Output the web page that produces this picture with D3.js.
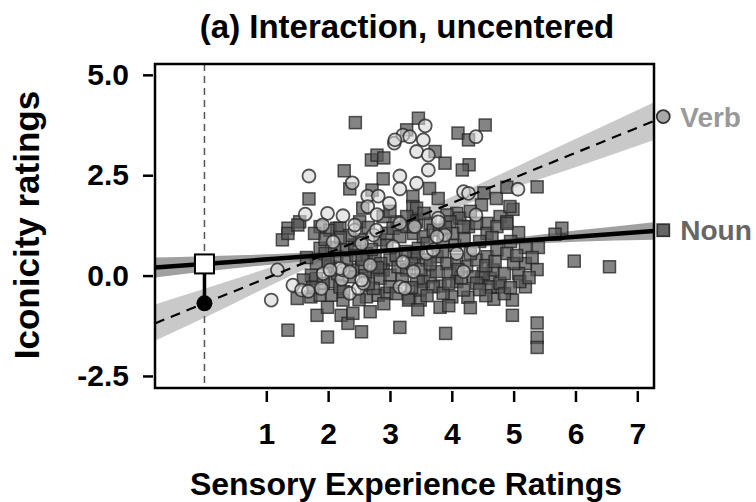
<!DOCTYPE html>
<html>
<head>
<meta charset="utf-8">
<script src="https://cdn.jsdelivr.net/npm/d3@7"></script>
<style>
  body { margin: 0; background: #fff; }
  text { font-family: "Liberation Sans", Arial, sans-serif; font-weight: bold; }
</style>
</head>
<body>
<div id="chart"></div>
<script>
// tick values
const xTicks = [1, 2, 3, 4, 5, 6, 7];
const yTicks = [-2.5, 0, 2.5, 5];

// noun words: [sensory experience, iconicity]
const nounPoints = [
  [2.44,3.81],[2.26,2.61],[2.35,2.16],[1.69,1.91],[1.54,1.34],[1.35,1.18],[2.89,2.41],[2.70,2.88],
  [2.79,3.0],[2.90,2.93],[3.27,3.63],[3.46,3.92],[2.71,2.13],[3.37,1.97],[3.37,1.72],[2.56,1.68],
  [4.54,3.75],[4.10,3.55],[4.27,3.38],[3.73,3.09],[3.89,2.80],[4.28,2.76],[4.17,2.63],[3.64,2.17],
  [4.52,2.06],[4.72,1.92],[4.89,2.20],[5.38,2.21],[3.78,1.92],[4.48,1.76],[4.99,1.65],[4.78,1.47],
  [4.89,1.34],[4.08,1.55],[3.92,1.51],[5.78,1.18],[4.13,1.43],[3.97,1.34],[4.27,1.22],[4.57,1.30],
  [3.38,1.38],[3.65,1.30],[3.43,1.68],[2.51,1.34],[2.89,1.47],[3.11,1.34],[3.27,1.47],[3.43,1.34],
  [1.87,1.22],[2.14,1.18],[4.94,1.72],
  [1.26,0.89],[1.35,1.05],[1.51,1.26],[1.50,-0.57],[1.72,-0.53],[1.82,-0.99],[1.99,-0.79],[1.35,-1.36],
  [1.99,-1.53],[2.54,-1.40],[2.21,-0.99],[2.32,-1.19],[2.40,-0.94],[2.68,-0.90],[2.24,-0.61],[2.62,-0.53],
  [2.81,-0.49],[3.16,-1.29],[2.95,-0.44],[3.32,-0.56],[1.81,0.30],[2.03,0.22],
  [1.78,1.05],[1.87,0.68],[2.03,1.13],[2.19,1.18],[1.95,0.55],[2.14,0.47],[2.30,0.64],[2.43,0.76],
  [2.51,0.89],[2.62,0.55],[2.76,0.47],[2.84,0.89],[2.95,1.05],[3.05,1.18],[3.16,0.97],[3.27,1.22],
  [3.38,1.05],[3.46,0.68],[3.38,0.47],[3.0,0.39],[2.89,0.14],[2.73,0.14],[2.54,0.22],[2.40,0.14],
  [2.35,-0.03],[2.05,-0.15],[1.92,-0.19],[1.81,-0.07],[1.73,0.01],[1.60,-0.11],[2.84,-0.07],[3.0,0.01],
  [3.13,0.22],[3.27,0.14],[3.43,-0.11],[3.30,-0.61],[3.0,-0.28],[2.73,-0.32],[2.05,-0.49],[2.19,-0.28],
  [1.87,-0.49],
  [5.67,1.03],[5.98,0.36],[6.55,0.22],[5.38,0.15],[5.19,-0.28],[5.19,0.30],[5.08,0.05],[5.10,-0.15],
  [4.98,-0.61],[4.98,-0.99],[5.38,-1.18],[5.38,-1.54],[5.38,-1.79],[3.90,-1.44],[3.81,-0.79],[4.0,-0.53],
  [4.26,-0.54],[4.68,-0.59],[4.75,-0.28],[3.49,-0.61],[3.54,-0.15],[3.81,-0.26],[4.08,-0.15],[4.48,-0.07],
  [4.62,-0.07],[5.40,0.70],[5.19,0.70],[5.08,1.07],
  [3.38,1.22],[3.54,0.97],[3.70,1.13],[3.86,0.89],[4.02,1.05],[4.19,1.22],[4.40,1.30],[4.57,1.05],
  [4.73,1.22],[4.89,1.30],[3.43,0.55],[3.59,0.39],[3.76,0.47],[3.92,0.30],[4.08,0.39],[4.24,0.22],
  [4.40,0.39],[4.57,0.47],[4.73,0.64],[4.89,0.55],[5.0,0.30],[4.67,0.14],[4.51,0.05],[4.35,-0.03],
  [3.97,0.05],[3.65,-0.03],[3.49,-0.36],[3.70,-0.28],[3.86,-0.44],[4.19,-0.36],[4.40,-0.19],[4.62,-0.28],
  [4.78,-0.19],
  [2.0,0.35],[2.15,0.05],[2.3,0.35],[2.45,0.5],[2.6,0.0],[2.7,0.65],[2.85,0.3],[2.95,0.75],
  [3.1,0.5],[3.2,-0.1],[3.35,0.3],[3.5,0.15],[3.6,0.8],[3.75,0.1],[3.85,0.6],[3.95,-0.2],
  [4.05,0.75],[4.15,-0.05],[4.3,0.55],[4.45,0.85],[4.55,0.25],[4.7,0.35],[4.85,0.05],[4.95,0.85],
  [2.1,0.7],[2.5,-0.6],[2.65,-0.2],[2.9,-0.7],[3.1,-0.45],[3.45,-0.85],[3.6,-0.5],[3.95,-0.75],
  [4.3,-0.8],[4.55,-0.5],[4.85,-0.45],[1.95,0.9],[2.35,1.0],[2.65,1.2],[3.0,1.6],[3.55,1.55],
  [3.8,1.15],[4.2,0.9],[4.65,0.95],[5.05,0.5],[5.25,-0.05],[5.3,0.45],[1.65,0.45],[1.75,-0.3],
  [2.25,-0.4],[2.55,0.4],[3.25,0.6],[3.65,0.3],[4.1,0.15],[4.45,-0.35],[4.95,-0.3],[3.35,-0.3],
  [3.9,1.2],[4.3,1.6],[2.2,0.95],[2.8,0.2]
];

// verb words
const verbPoints = [
  [1.69,2.48],[2.39,2.31],[1.63,1.53],[1.99,1.55],[2.24,1.49],[2.64,1.98],[2.81,1.98],[2.99,1.80],
  [2.64,1.72],[3.16,2.48],[3.16,2.16],[3.43,2.30],[3.07,3.30],[3.21,3.50],[3.32,3.46],[3.43,3.09],
  [2.79,1.52],[1.91,1.26],[3.57,3.73],[4.39,3.46],[3.54,3.38],[3.62,3.0],[3.62,2.63],[4.19,2.09],
  [4.27,2.05],[5.07,2.15],[4.39,1.51],[3.78,1.43],[3.08,3.38],
  [1.18,0.14],[1.08,-0.61],[1.43,-0.24],[1.57,-0.36],[1.68,-0.39],[1.89,-0.32],[2.35,-0.44],[2.49,-0.32],
  [2.57,-0.19],[2.22,-0.09],[1.92,0.05],[2.24,0.14],[2.08,0.84],[2.43,1.13],[2.73,1.01],[3.05,0.72],
  [3.16,-0.28],[3.24,-0.32],[3.21,0.34],[3.38,0.10],[3.89,1.01],[4.35,0.64],[4.19,0.10],[3.78,1.34],
  [4.08,0.55],[2.19,0.18],[2.35,0.09],[2.03,0.14],[2.54,-0.11],[2.54,0.80],[3.16,1.30],[3.40,1.22],
  [3.59,0.55],[2.68,0.26],[3.76,0.97],[3.70,0.64],[2.78,1.13],[2.43,1.26]
];

// fitted lines (read at the panel edges) and confidence bands
const nounFit = [{x: -0.8, y: 0.20}, {x: 7.27, y: 1.11}];
const verbFit = [{x: -0.8, y: -1.19}, {x: 7.27, y: 3.85}];
const nounBand = [
  {x: -0.8, lo: -0.05, hi: 0.45}, {x: 0, lo: 0.10, hi: 0.48}, {x: 1.5, lo: 0.34, hi: 0.56},
  {x: 3, lo: 0.56, hi: 0.68}, {x: 4.5, lo: 0.72, hi: 0.86}, {x: 6, lo: 0.84, hi: 1.12},
  {x: 7.27, lo: 0.89, hi: 1.33}
];
const verbBand = [
  {x: -0.8, lo: -1.62, hi: -0.72}, {x: 0, lo: -1.05, hi: -0.33}, {x: 1.5, lo: 0.07, hi: 0.43},
  {x: 3, lo: 1.08, hi: 1.28}, {x: 4.5, lo: 1.92, hi: 2.32}, {x: 6, lo: 2.70, hi: 3.40},
  {x: 7.27, lo: 3.38, hi: 4.32}
];
const labelMarks = [
  {name: "Verb", x: 7.42, y: 3.96, shape: "circle", fill: "#a8a8a8", color: "#999"},
  {name: "Noun", x: 7.42, y: 1.13, shape: "square", fill: "#666", color: "#666"}
];
const nounAtZero = 0.29;
const verbAtZero = -0.69;

const width = 756, height = 502;
const box = {left: 155, right: 654, top: 64, bottom: 388};

let svg = d3.select("#chart").append("svg")
  .attr("width", width)
  .attr("height", height);

let x = d3.scaleLinear().domain([-0.8, 7.27]).range([box.left, box.right]);
let y = d3.scaleLinear().domain([-2.8, 5.27]).range([box.bottom, box.top]);

svg.append("clipPath").attr("id", "clip")
  .append("rect")
  .attr("x", box.left).attr("y", box.top)
  .attr("width", box.right - box.left).attr("height", box.bottom - box.top);

let plot = svg.append("g").attr("clip-path", "url(#clip)");

// bands
let area = d3.area().x(d => x(d.x)).y0(d => y(d.lo)).y1(d => y(d.hi)).curve(d3.curveMonotoneX);
plot.append("path").datum(verbBand).attr("d", area).attr("fill", "#c9c9c9");
plot.append("path").datum(nounBand).attr("d", area).attr("fill", "#8f8f8f").attr("fill-opacity", 0.85);

// zero line
plot.append("line")
  .attr("x1", x(0)).attr("x2", x(0))
  .attr("y1", box.top).attr("y2", box.bottom)
  .attr("stroke", "#555").attr("stroke-width", 1.5)
  .attr("stroke-dasharray", "7,5");

// points
const sq = 12;
plot.append("g").selectAll("rect")
  .data(nounPoints)
  .enter().append("rect")
    .attr("x", d => x(d[0]) - sq / 2)
    .attr("y", d => y(d[1]) - sq / 2)
    .attr("width", sq).attr("height", sq)
    .attr("fill", "rgba(85,85,85,0.72)")
    .attr("stroke", "rgba(35,35,35,0.75)")
    .attr("stroke-width", 1.5);

plot.append("g").selectAll("circle")
  .data(verbPoints)
  .enter().append("circle")
    .attr("cx", d => x(d[0]))
    .attr("cy", d => y(d[1]))
    .attr("r", 6.5)
    .attr("fill", "rgba(215,215,215,0.6)")
    .attr("stroke", "rgba(40,40,40,0.8)")
    .attr("stroke-width", 1.8);

// fit lines
let line = d3.line().x(d => x(d.x)).y(d => y(d.y));
plot.append("path").datum(nounFit).attr("d", line)
  .attr("stroke", "#000").attr("stroke-width", 4.5).attr("fill", "none");
plot.append("path").datum(verbFit).attr("d", line)
  .attr("stroke", "#000").attr("stroke-width", 2.2).attr("fill", "none")
  .attr("stroke-dasharray", "10,7");

// intercept difference at x = 0
svg.append("line")
  .attr("x1", x(0)).attr("x2", x(0))
  .attr("y1", y(nounAtZero)).attr("y2", y(verbAtZero))
  .attr("stroke", "#000").attr("stroke-width", 3.5);
svg.append("circle")
  .attr("cx", x(0)).attr("cy", y(verbAtZero)).attr("r", 8).attr("fill", "#000");
svg.append("rect")
  .attr("x", x(0) - 9.5).attr("y", y(nounAtZero) - 9.5)
  .attr("width", 19).attr("height", 19)
  .attr("fill", "#fff").attr("stroke", "#000").attr("stroke-width", 2);

// frame
svg.append("rect")
  .attr("x", box.left).attr("y", box.top)
  .attr("width", box.right - box.left).attr("height", box.bottom - box.top)
  .attr("fill", "none").attr("stroke", "#000").attr("stroke-width", 2.5);

// axes
let fmtY = d => d3.format(".1f")(d).replace("\u2212", "-");
let yAxis = svg.append("g")
  .attr("transform", `translate(${box.left - 2},0)`)
  .call(d3.axisLeft(y).tickValues(yTicks).tickFormat(fmtY).tickSize(10).tickPadding(14));
let xAxis = svg.append("g")
  .attr("transform", `translate(0,${box.bottom + 3})`)
  .call(d3.axisBottom(x).tickValues(xTicks).tickFormat(d3.format("d")).tickSize(11).tickPadding(21));
[yAxis, xAxis].forEach(a => {
  a.select(".domain").remove();
  a.selectAll(".tick line").attr("stroke", "#000").attr("stroke-width", 2.5);
  a.selectAll(".tick text")
    .attr("fill", "#000")
    .style("font-family", '"Liberation Sans", Arial, sans-serif')
    .style("font-weight", "bold")
    .style("font-size", "30px");
});

// series labels at the right
labelMarks.forEach(m => {
  if (m.shape === "circle") {
    svg.append("circle").attr("cx", x(m.x)).attr("cy", y(m.y)).attr("r", 6.5)
      .attr("fill", m.fill).attr("stroke", "#333").attr("stroke-width", 1.8);
  } else {
    svg.append("rect").attr("x", x(m.x) - 6).attr("y", y(m.y) - 6).attr("width", 12).attr("height", 12)
      .attr("fill", m.fill).attr("stroke", "#333").attr("stroke-width", 1.8);
  }
  svg.append("text")
    .attr("x", x(m.x) + 17).attr("y", y(m.y) + 10)
    .attr("fill", m.color)
    .style("font-size", "28px")
    .text(m.name);
});

// titles
svg.append("text")
  .attr("x", 407).attr("y", 38)
  .attr("text-anchor", "middle")
  .style("font-size", "33px")
  .text("(a) Interaction, uncentered");

svg.append("text")
  .attr("transform", "translate(39,225) rotate(-90)")
  .attr("text-anchor", "middle")
  .style("font-size", "35px")
  .text("Iconicity ratings");

svg.append("text")
  .attr("x", 406).attr("y", 495)
  .attr("text-anchor", "middle")
  .style("font-size", "32px")
  .text("Sensory Experience Ratings");
</script>
</body>
</html>
